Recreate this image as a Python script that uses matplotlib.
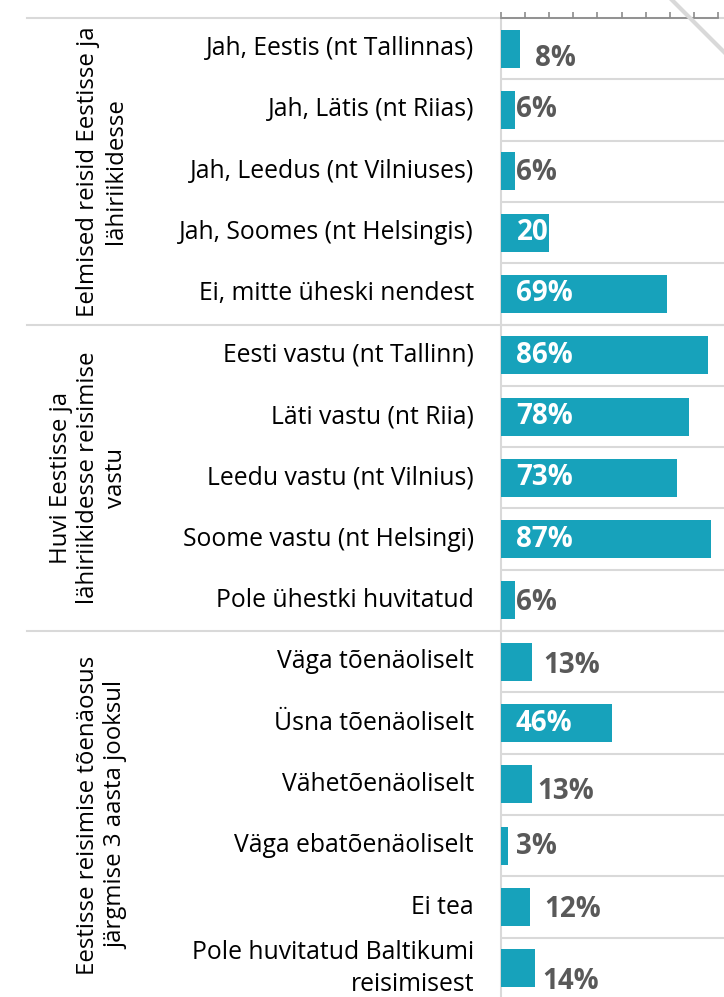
import matplotlib
matplotlib.use("Agg")
import matplotlib.pyplot as plt
import matplotlib.transforms as mtransforms
from matplotlib.lines import Line2D

# --- data (top to bottom) ---
categories = [
    "Jah, Eestis (nt Tallinnas)",
    "Jah, Lätis (nt Riias)",
    "Jah, Leedus (nt Vilniuses)",
    "Jah, Soomes (nt Helsingis)",
    "Ei, mitte üheski nendest",
    "Eesti vastu (nt Tallinn)",
    "Läti vastu (nt Riia)",
    "Leedu vastu (nt Vilnius)",
    "Soome vastu (nt Helsingi)",
    "Pole ühestki huvitatud",
    "Väga tõenäoliselt",
    "Üsna tõenäoliselt",
    "Vähetõenäoliselt",
    "Väga ebatõenäoliselt",
    "Ei tea",
    "Pole huvitatud Baltikumi\nreisimisest",
]
values = [8, 6, 6, 20, 69, 86, 78, 73, 87, 6, 13, 46, 13, 3, 12, 14]
value_labels = ["8%", "6%", "6%", "20", "69%", "86%", "78%", "73%", "87%", "6%",
                "13%", "46%", "13%", "3%", "12%", "14%"]
groups = [
    "Eelmised reisid Eestisse ja\nlähiriikidesse",
    "Huvi Eestisse ja\nlähiriikidesse reisimise\nvastu",
    "Eestisse reisimise tõenäosus\njärgmise 3 aasta jooksul",
]
group_sizes = [5, 5, 6]

# label nudges in pixels (x from axis origin, y downward from bar centre)
lab_dx = [34, 15, 15, 16, 15, 15, 15, 15, 15, 15, 42, 15, 36, 15, 43, 41]
lab_dy = [10, 0, 1, 0, 0, 0, 0, 0, 0, 2, 4, 0, 7, 1, 2, 13]

W, H = 724, 997
BAR = "#17a2bb"
GRID = "#d9d9d9"
DARK = "#595959"

fig = plt.figure(figsize=(W / 100, H / 100), dpi=100)
ax = fig.add_axes([501 / W, -2 / H, (W - 501) / W, 981 / H])

n = len(values)
ax.barh(range(n), values, height=0.62, color=BAR, zorder=3)
ax.set_xlim(0, 92.5)
ax.set_ylim(n - 0.5, -0.5)

# axis cosmetics
ax.xaxis.tick_top()
ax.set_xticks(range(0, 91, 10))
ax.tick_params(axis="x", length=4.3, width=1.2, color="#8c8c8c", labeltop=False)
ax.set_yticks([])
for s in ["right", "bottom"]:
    ax.spines[s].set_visible(False)
ax.spines["top"].set_bounds(0, 90)
ax.spines["top"].set_color("#8c8c8c")
ax.spines["top"].set_linewidth(1.3)
ax.spines["top"].set_zorder(5)
ax.spines["left"].set_color(GRID)
ax.spines["left"].set_linewidth(1.5)

for b in range(1, n):
    ax.axhline(b - 0.5, color=GRID, lw=1.5, zorder=1)

blend = mtransforms.blended_transform_factory(fig.transFigure, ax.transData)

# group separators
edges = [0]
for g in group_sizes:
    edges.append(edges[-1] + g)
for e in edges:
    ax.plot([27 / W, 1.0], [e - 0.5, e - 0.5], color=GRID, lw=1.5,
            transform=blend, clip_on=False, zorder=1)

# group labels
for gi, g in enumerate(groups):
    mid = (edges[gi] + edges[gi + 1] - 1) / 2
    ax.text(128 / W, mid, g, transform=blend, rotation=90, ha="right", va="center",
            multialignment="center", fontsize=17.3, family="Open Sans", color="black",
            linespacing=1.2)

# category labels
for i, c in enumerate(categories):
    ax.text(474 / W, i, c, transform=blend, ha="right", va="center",
            multialignment="right", fontsize=17.8, family="Open Sans", color="black",
            linespacing=1.4)

# value labels
for i, (v, t) in enumerate(zip(values, value_labels)):
    col = "white" if v >= 20 else DARK
    ax.annotate(t, xy=(0, i), xytext=(lab_dx[i] * 0.72, -lab_dy[i] * 0.72),
                textcoords="offset points", ha="left", va="center",
                fontsize=20, fontweight="bold", family="Open Sans", color=col, zorder=4)

# diagonal stroke seen at the top right of the source
fig.add_artist(Line2D([672 / W, 1.0], [1.0, 1 - 52 / H], color=GRID, lw=3,
                      transform=fig.transFigure))

fig.savefig("out.png", dpi=100)
